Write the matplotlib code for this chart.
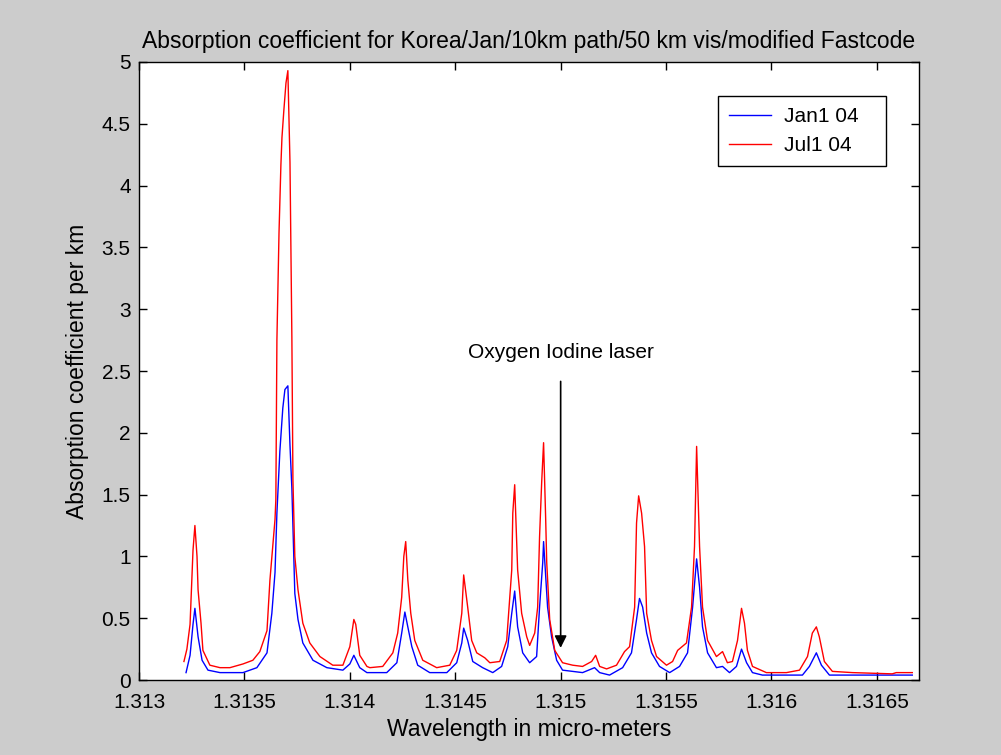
import numpy as np
import matplotlib.pyplot as plt

# wavelengths (micro-meters) and absorption coefficient per km
jan_wl = [1.313223, 1.313242, 1.313256, 1.313265, 1.313280, 1.313299, 1.313327, 1.313384,
          1.313493, 1.313559, 1.313607, 1.313630, 1.313645, 1.313654, 1.313668, 1.313682,
          1.313692, 1.313706, 1.313716, 1.313725, 1.313739, 1.313754, 1.313777, 1.313825,
          1.313891, 1.313967, 1.314000, 1.314019, 1.314047, 1.314081, 1.314095, 1.314175,
          1.314223, 1.314246, 1.314261, 1.314275, 1.314294, 1.314322, 1.314379, 1.314460,
          1.314507, 1.314531, 1.314540, 1.314559, 1.314583, 1.314630, 1.314678, 1.314720,
          1.314749, 1.314768, 1.314782, 1.314796, 1.314820, 1.314853, 1.314886, 1.314900,
          1.314915, 1.314919, 1.314938, 1.314957, 1.314981, 1.315009, 1.315104, 1.315161,
          1.315185, 1.315232, 1.315294, 1.315336, 1.315360, 1.315374, 1.315389, 1.315408,
          1.315431, 1.315469, 1.315517, 1.315564, 1.315602, 1.315626, 1.315645, 1.315659,
          1.315673, 1.315697, 1.315739, 1.315768, 1.315801, 1.315834, 1.315858, 1.315882,
          1.315910, 1.315957, 1.316147, 1.316180, 1.316213, 1.316237, 1.316275, 1.316668]
jan_abs = [0.06, 0.20, 0.45, 0.58, 0.35, 0.16, 0.08, 0.06,
           0.06, 0.10, 0.22, 0.54, 0.87, 1.35, 1.85, 2.20,
           2.35, 2.38, 1.90, 1.55, 0.70, 0.49, 0.30, 0.16,
           0.10, 0.08, 0.13, 0.20, 0.10, 0.06, 0.06, 0.06,
           0.14, 0.38, 0.55, 0.43, 0.27, 0.12, 0.06, 0.06,
           0.14, 0.30, 0.42, 0.32, 0.15, 0.10, 0.06, 0.11,
           0.27, 0.54, 0.72, 0.43, 0.22, 0.14, 0.19, 0.59,
           0.95, 1.12, 0.59, 0.35, 0.16, 0.08, 0.06, 0.10,
           0.06, 0.04, 0.10, 0.22, 0.49, 0.66, 0.59, 0.38,
           0.22, 0.11, 0.06, 0.11, 0.22, 0.59, 0.98, 0.75,
           0.43, 0.22, 0.10, 0.11, 0.06, 0.11, 0.25, 0.14,
           0.06, 0.04, 0.04, 0.11, 0.22, 0.12, 0.04, 0.04]

jul_wl = [1.313213, 1.313227, 1.313242, 1.313256, 1.313265, 1.313275, 1.313280, 1.313294,
          1.313303, 1.313336, 1.313384, 1.313431, 1.313493, 1.313540, 1.313573, 1.313607,
          1.313621, 1.313635, 1.313645, 1.313649, 1.313654, 1.313664, 1.313673, 1.313678,
          1.313687, 1.313697, 1.313706, 1.313716, 1.313725, 1.313730, 1.313739, 1.313754,
          1.313777, 1.313810, 1.313858, 1.313919, 1.313967, 1.314000, 1.314019, 1.314028,
          1.314047, 1.314081, 1.314095, 1.314156, 1.314204, 1.314227, 1.314246, 1.314256,
          1.314265, 1.314275, 1.314289, 1.314308, 1.314346, 1.314412, 1.314474, 1.314507,
          1.314531, 1.314540, 1.314559, 1.314578, 1.314602, 1.314640, 1.314664, 1.314711,
          1.314744, 1.314768, 1.314773, 1.314782, 1.314796, 1.314815, 1.314839, 1.314853,
          1.314877, 1.314891, 1.314900, 1.314910, 1.314919, 1.314929, 1.314934, 1.314948,
          1.314972, 1.315009, 1.315057, 1.315104, 1.315147, 1.315166, 1.315185, 1.315218,
          1.315265, 1.315303, 1.315327, 1.315351, 1.315360, 1.315370, 1.315384, 1.315398,
          1.315408, 1.315431, 1.315455, 1.315502, 1.315531, 1.315555, 1.315597, 1.315621,
          1.315635, 1.315645, 1.315659, 1.315673, 1.315697, 1.315739, 1.315768, 1.315791,
          1.315815, 1.315839, 1.315858, 1.315872, 1.315886, 1.315910, 1.315976, 1.316071,
          1.316133, 1.316171, 1.316194, 1.316213, 1.316227, 1.316251, 1.316289, 1.316384,
          1.316573, 1.316592, 1.316668]
jul_abs = [0.15, 0.25, 0.45, 1.05, 1.25, 1.00, 0.73, 0.46,
           0.24, 0.12, 0.10, 0.10, 0.13, 0.16, 0.23, 0.40,
           0.81, 1.09, 1.30, 1.46, 2.75, 3.62, 4.17, 4.39,
           4.61, 4.83, 4.93, 4.19, 2.77, 1.62, 1.00, 0.73,
           0.46, 0.30, 0.19, 0.12, 0.12, 0.27, 0.49, 0.45,
           0.20, 0.11, 0.10, 0.11, 0.22, 0.38, 0.67, 1.00,
           1.12, 0.81, 0.54, 0.32, 0.16, 0.10, 0.12, 0.24,
           0.54, 0.85, 0.59, 0.32, 0.22, 0.18, 0.14, 0.15,
           0.32, 0.89, 1.35, 1.58, 0.89, 0.54, 0.35, 0.28,
           0.38, 0.59, 1.16, 1.60, 1.92, 1.30, 0.95, 0.49,
           0.24, 0.14, 0.12, 0.11, 0.15, 0.20, 0.11, 0.09,
           0.12, 0.23, 0.27, 0.59, 1.27, 1.49, 1.35, 1.08,
           0.54, 0.32, 0.19, 0.12, 0.15, 0.24, 0.30, 0.59,
           1.08, 1.89, 1.08, 0.59, 0.32, 0.19, 0.23, 0.14,
           0.15, 0.32, 0.58, 0.46, 0.24, 0.11, 0.06, 0.06,
           0.08, 0.19, 0.38, 0.43, 0.35, 0.15, 0.07, 0.06,
           0.05, 0.06, 0.06]

xticks = [1.313, 1.3135, 1.314, 1.3145, 1.315, 1.3155, 1.316, 1.3165]
xtick_labels = ['1.313', '1.3135', '1.314', '1.3145', '1.315', '1.3155', '1.316', '1.3165']
yticks = [0, 0.5, 1, 1.5, 2, 2.5, 3, 3.5, 4, 4.5, 5]
ytick_labels = ['0', '0.5', '1', '1.5', '2', '2.5', '3', '3.5', '4', '4.5', '5']
laser_wl = 1.315

plt.rcParams['font.family'] = ['Liberation Sans', 'DejaVu Sans']
plt.rcParams['font.size'] = 15

fig = plt.figure(figsize=(10.01, 7.55), dpi=100, facecolor='#cccccc')
ax = fig.add_axes([0.1389, 0.0993, 0.7792, 0.8186])
ax.set_facecolor('white')

ax.plot(jan_wl, jan_abs, color='#0000ff', lw=1.0, label='Jan1 04')
ax.plot(jul_wl, jul_abs, color='#ff0000', lw=1.0, label='Jul1 04')

ax.set_xlim(1.313, 1.3167)
ax.set_ylim(0, 5)
ax.set_xticks(xticks)
ax.set_xticklabels(xtick_labels)
ax.set_yticks(yticks)
ax.set_yticklabels(ytick_labels)
ax.tick_params(direction='in', length=6, width=1, top=True, right=True,
               labelsize=15, colors='black')
ax.tick_params(axis='x', pad=9)
ax.tick_params(axis='y', pad=6)
for s in ax.spines.values():
    s.set_linewidth(1)

ax.set_title('Absorption coefficient for Korea/Jan/10km path/50 km vis/modified Fastcode',
             fontsize=16.5, pad=10)
ax.set_xlabel('Wavelength in micro-meters', fontsize=16.5, labelpad=5)
ax.set_ylabel('Absorption coefficient per km', fontsize=16.5, labelpad=9)

ax.annotate('Oxygen Iodine laser', xy=(laser_wl, 0.26), xytext=(laser_wl, 2.65),
            ha='center', va='center', fontsize=15,
            arrowprops=dict(arrowstyle='-|>', color='black', lw=1.2,
                            mutation_scale=18, shrinkA=12, shrinkB=0))

# legend box stretched like the matlab one (extra room on the right)
leg = ax.legend(loc='upper left', bbox_to_anchor=(0.7423, 0.80, 0.2154, 0.145),
                mode='expand', borderaxespad=0, fancybox=False, edgecolor='black',
                framealpha=1, handlelength=2.0, handletextpad=0.6, fontsize=15,
                borderpad=0.55, labelspacing=0.45)
leg.get_frame().set_linewidth(1)

fig.savefig('out.png', dpi=100, facecolor=fig.get_facecolor())
